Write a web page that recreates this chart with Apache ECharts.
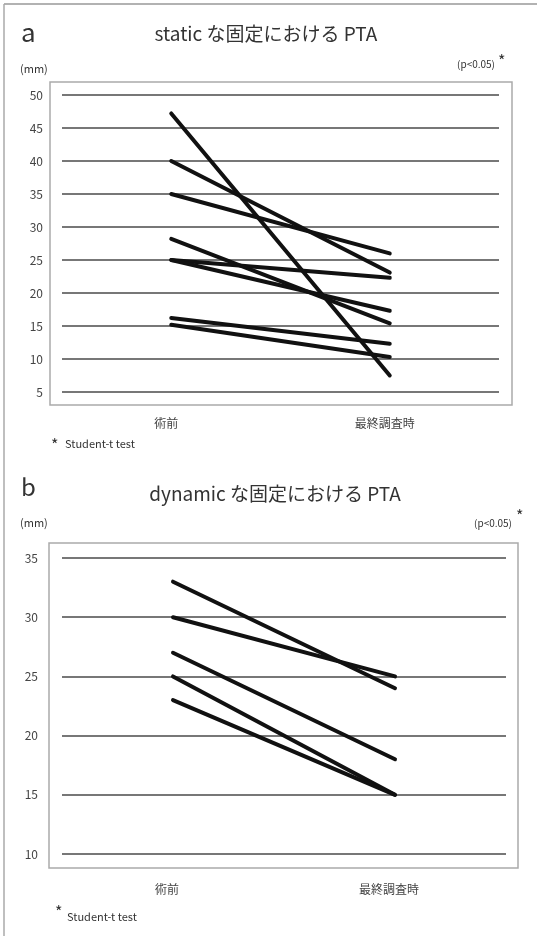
<!DOCTYPE html>
<html><head><meta charset="utf-8">
<script src="https://cdn.jsdelivr.net/npm/echarts@6/dist/echarts.min.js"></script>
<style>html,body{margin:0;padding:0;background:#fff}#c{width:537px;height:936px}</style>
</head><body><div id="c"></div>
<script>
const categories = ['術前', '最終調査時'];
const staticPre  = [47.2, 40, 35, 28.2, 25, 25, 16.2, 15.2];
const staticPost = [7.5, 23.1, 26, 15.4, 22.3, 17.3, 12.3, 10.3];
const dynamicPre  = [33, 30, 27, 25, 23];
const dynamicPost = [24, 25, 18, 15, 15];
const staticTicks = {min: 5, max: 50, interval: 5};
const dynamicTicks = {min: 10, max: 35, interval: 5};

const FONT = '"Noto Sans CJK JP", "Noto Sans", sans-serif';
const chart = echarts.init(document.getElementById('c'), null, {renderer: 'canvas'});

function mkSeries(pre, post, idx) {
  return pre.map((v, i) => ({
    type: 'line', xAxisIndex: idx, yAxisIndex: idx,
    data: [v, post[i]], symbol: 'none', silent: true,
    lineStyle: {color: '#111', width: 4, cap: 'round'}
  }));
}
function yAx(idx, t, margin) {
  return {type: 'value', gridIndex: idx, min: t.min, max: t.max, interval: t.interval,
    axisLine: {show: false}, axisTick: {show: false},
    axisLabel: {color: '#444', fontSize: 12, fontFamily: FONT, margin: margin},
    splitLine: {show: true, lineStyle: {color: '#777', width: 2}}};
}
function xAx(idx, margin, padR) {
  return {type: 'category', gridIndex: idx, data: categories, boundaryGap: true,
    axisLine: {show: false}, axisTick: {show: false}, splitLine: {show: false},
    axisLabel: {color: '#444', fontSize: 12, fontFamily: FONT, margin: margin, padding: [0, padR, 0, 0]}};
}
function txt(x, y, s, size, opts) {
  return Object.assign({type: 'text', x: x, y: y, silent: true,
    style: Object.assign({text: s, fill: '#333', font: size + 'px ' + FONT, textVerticalAlign: 'middle'}, opts || {})});
}

chart.setOption({
  animation: false,
  grid: [
    {left: 62, width: 437, top: 95, height: 297},
    {left: 62, width: 444, top: 558, height: 296}
  ],
  xAxis: [xAx(0, 25, 10), xAx(1, 29, 12)],
  yAxis: [yAx(0, staticTicks, 19), yAx(1, dynamicTicks, 24)],
  series: mkSeries(staticPre, staticPost, 0).concat(mkSeries(dynamicPre, dynamicPost, 1)),
  graphic: [
    {type: 'line', shape: {x1: 4, y1: 4, x2: 537, y2: 4}, style: {stroke: '#999', lineWidth: 1.5}, silent: true},
    {type: 'line', shape: {x1: 4, y1: 4, x2: 4, y2: 936}, style: {stroke: '#aaa', lineWidth: 1.5}, silent: true},
    {type: 'rect', shape: {x: 50, y: 82, width: 462, height: 323}, style: {fill: 'none', stroke: '#aaa', lineWidth: 1.5}, silent: true, z: -1},
    {type: 'rect', shape: {x: 49, y: 543, width: 469, height: 325}, style: {fill: 'none', stroke: '#aaa', lineWidth: 1.5}, silent: true, z: -1},
    txt(21, 32, 'a', 26),
    txt(266, 34, 'static な固定における PTA', 19, {textAlign: 'center'}),
    txt(20, 69, '(mm)', 11),
    txt(495, 64, '(p<0.05)', 10, {textAlign: 'right'}),
    txt(498, 61, '*', 16),
    txt(51, 445, '*', 16),
    txt(65, 444, 'Student-t test', 11),
    txt(21, 487, 'b', 24),
    txt(275, 494, 'dynamic な固定における PTA', 19, {textAlign: 'center'}),
    txt(20, 523, '(mm)', 11),
    txt(512, 523, '(p<0.05)', 10, {textAlign: 'right'}),
    txt(516, 516, '*', 16),
    txt(55, 912, '*', 16),
    txt(67, 917, 'Student-t test', 11)
  ]
});
</script></body></html>
